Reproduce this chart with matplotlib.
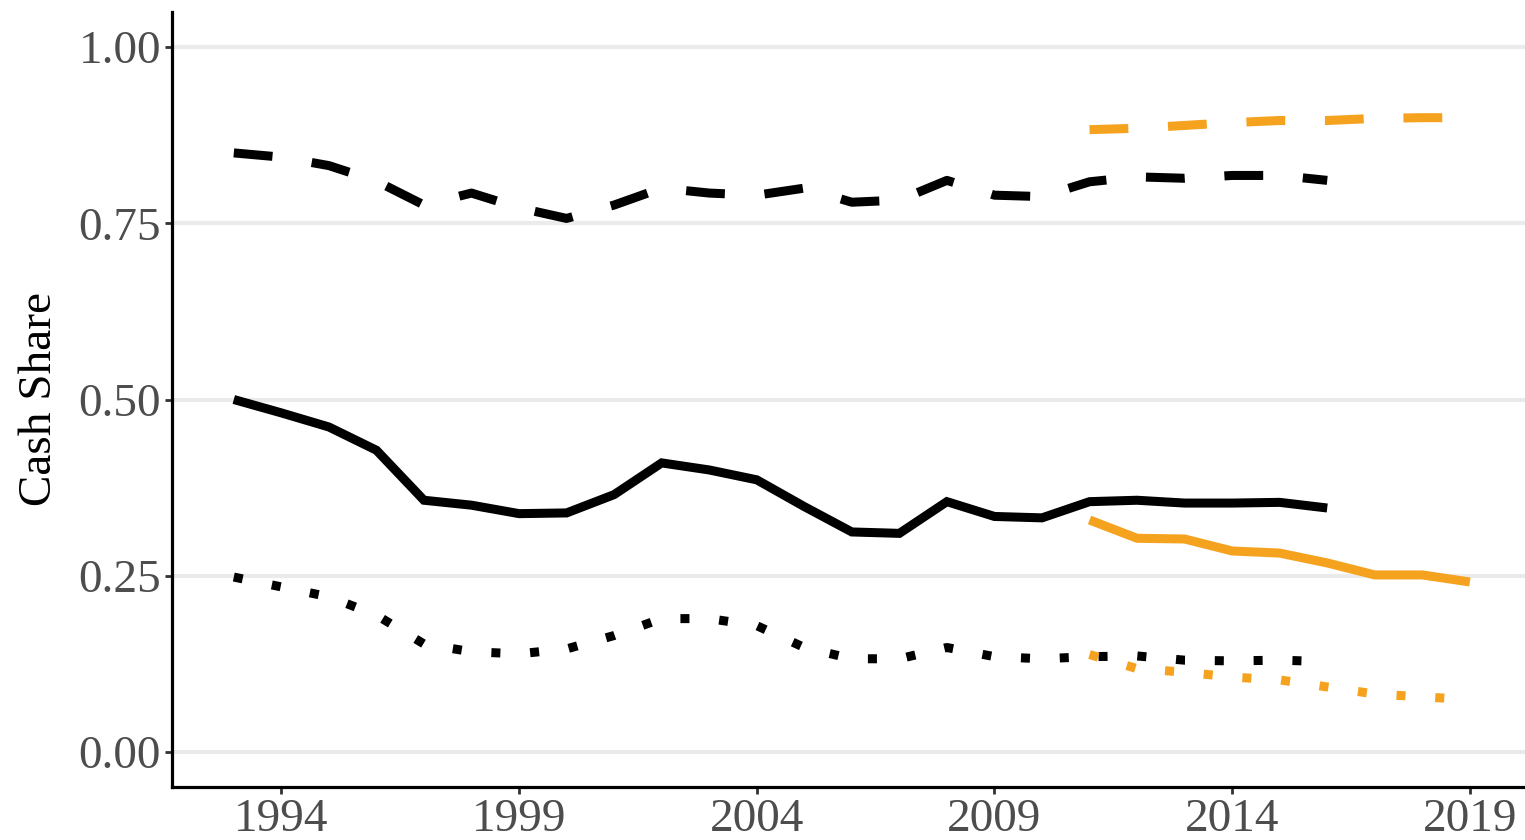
import matplotlib
matplotlib.use('Agg')
import matplotlib.pyplot as plt
import numpy as np

# years
years_a = np.arange(1993, 2017)
years_b = np.arange(2011, 2020)

# black series (1993-2016)
mean_a = [0.500, 0.481, 0.461, 0.428, 0.357, 0.350, 0.338, 0.339, 0.365, 0.410,
          0.400, 0.386, 0.348, 0.312, 0.310, 0.355, 0.334, 0.332, 0.355, 0.357,
          0.353, 0.353, 0.354, 0.346]
high_a = [0.850, 0.844, 0.832, 0.810, 0.776, 0.793, 0.772, 0.757, 0.776, 0.800,
          0.793, 0.790, 0.800, 0.780, 0.783, 0.811, 0.790, 0.788, 0.809, 0.816,
          0.814, 0.818, 0.818, 0.811]
low_a = [0.248, 0.234, 0.220, 0.194, 0.153, 0.142, 0.139, 0.146, 0.165, 0.189,
         0.189, 0.179, 0.148, 0.132, 0.132, 0.148, 0.135, 0.132, 0.135, 0.136,
         0.130, 0.129, 0.130, 0.128]

# orange series (2011-2019)
mean_b = [0.329, 0.303, 0.302, 0.285, 0.282, 0.268, 0.251, 0.251, 0.241]
high_b = [0.883, 0.885, 0.889, 0.893, 0.896, 0.896, 0.899, 0.900, 0.900]
low_b = [0.138, 0.118, 0.113, 0.106, 0.102, 0.092, 0.082, 0.078, 0.074]

xticks = [1994, 1999, 2004, 2009, 2014, 2019]
yticks = [0.00, 0.25, 0.50, 0.75, 1.00]

plt.rcParams['font.family'] = ['Liberation Serif', 'DejaVu Serif']

fig = plt.figure(figsize=(15.25, 8.4), dpi=100)
ax = fig.add_axes([172 / 1525, 53 / 840, 1 - 172 / 1525, (787 - 12) / 840])

orange = '#F5A31E'
lw = 6.5
dash = (4.3, 4.4)
dot = (1.0, 3.3)

ax.plot(years_a, mean_a, color='black', lw=lw, solid_joinstyle='miter', solid_capstyle='butt')
ax.plot(years_a, high_a, color='black', lw=lw, linestyle=(0, dash), dash_capstyle='butt')
ax.plot(years_a, low_a, color='black', lw=lw, linestyle=(0, dot), dash_capstyle='butt')
ax.plot(years_b, mean_b, color=orange, lw=lw, solid_joinstyle='miter', solid_capstyle='butt')
ax.plot(years_b, high_b, color=orange, lw=lw, linestyle=(0, dash), dash_capstyle='butt')
ax.plot(years_b, low_b, color=orange, lw=lw, linestyle=(0, dot), dash_capstyle='butt')

ax.set_xlim(1991.7, 2020.16)
ax.set_ylim(-0.05, 1.05)
ax.set_xticks(xticks)
ax.set_yticks(yticks)
ax.set_yticklabels(['%.2f' % v for v in yticks])

ax.grid(axis='y', color='#EBEBEB', lw=3)
ax.set_axisbelow(True)
for s in ['top', 'right']:
    ax.spines[s].set_visible(False)
for s in ['left', 'bottom']:
    ax.spines[s].set_linewidth(2.3)
    ax.spines[s].set_color('black')

ax.tick_params(axis='both', labelsize=34, labelcolor='#4D4D4D', color='#333333',
               length=5, width=2, pad=3)
ax.set_ylabel('Cash Share', fontsize=34, labelpad=12)

fig.savefig('out.png', dpi=100)
